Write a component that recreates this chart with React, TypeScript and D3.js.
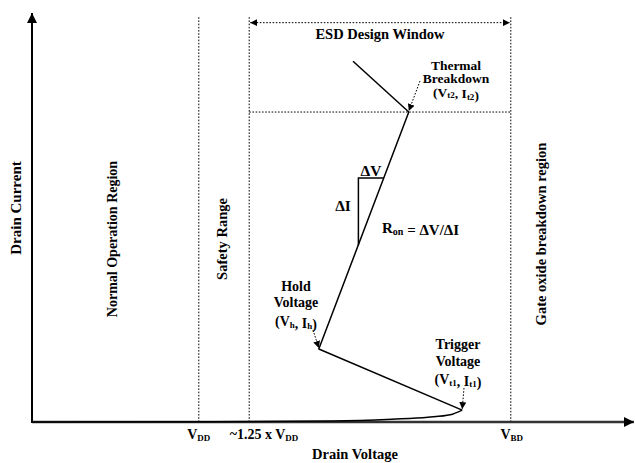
import React from 'react';
import * as d3 from 'd3';

const W = 635;
const H = 463;

// Schematic units: drain voltage 0..100, drain current 0..100
const voltageDomain = [0, 100];
const currentDomain = [0, 100];

// Reference voltages on the x axis: VDD, ~1.25 x VDD, VBD
const refVoltages = [27.8, 36.2, 79.8];

// Off-state leakage rising to the trigger point
const leakageV = [0, 30, 50, 60, 66, 69.7, 71.7];
const leakageI = [0, 0.05, 0.25, 0.7, 1.15, 1.75, 2.9];

// Snapback path: trigger (Vt1, It1) -> hold (Vh, Ih) -> thermal breakdown (Vt2, It2)
const snapbackV = [71.7, 47.8, 62.8];
const snapbackI = [2.9, 17.8, 75.6];

// Second breakdown branch beyond (Vt2, It2)
const failureV = [62.8, 53.5];
const failureI = [75.6, 88.0];

// On-resistance triangle corners
const triangleV = [54.4, 54.4, 58.6];
const triangleI = [43.2, 59.5, 59.5];

const FONT = '"Liberation Serif", "Times New Roman", serif';

export default function App() {
  const x = d3.scaleLinear().domain(voltageDomain).range([32, 632]);
  const y = d3.scaleLinear().domain(currentDomain).range([422, 12]);

  const leakage = d3
    .line<number>()
    .x((_, i) => x(leakageV[i]))
    .y((_, i) => y(leakageI[i]))
    .curve(d3.curveMonotoneX)(leakageV);

  const straight = (vs: number[], is: number[]) =>
    d3
      .line<number>()
      .x((_, i) => x(vs[i]))
      .y((_, i) => y(is[i]))(vs);

  const [vdd, vdd125, vbd] = refVoltages;
  const it2 = snapbackI[2];
  const topI = 98.8;
  const windowArrowI = 97.4;

  const bold = { fontFamily: FONT, fontWeight: 700 as const, fill: '#000' };
  const dotted = { stroke: '#000', strokeWidth: 1, strokeDasharray: '1.6,1.6', fill: 'none' };

  const sub = (t: string, size = 9) => (
    <tspan fontSize={size} dy={1.5}>
      {t}
    </tspan>
  );
  const back = () => <tspan dy={-1.5}></tspan>;

  return (
    <svg
      width={W}
      height={H}
      style={{ position: 'fixed', left: 0, top: 0, background: '#fff' }}
      xmlns="http://www.w3.org/2000/svg"
    >
      <defs>
        <marker id="head" viewBox="0 0 10 10" refX="10" refY="5" markerWidth="7" markerHeight="7" orient="auto-start-reverse" markerUnits="userSpaceOnUse">
          <path d="M0,0 L10,5 L0,10 z" fill="#000" />
        </marker>
        <marker id="bigHead" viewBox="0 0 10 10" refX="10" refY="5" markerWidth="11" markerHeight="10" orient="auto" markerUnits="userSpaceOnUse">
          <path d="M0,0 L10,5 L0,10 z" fill="#000" />
        </marker>
      </defs>

      {/* Reference voltage lines */}
      {refVoltages.map((v, i) => (
        <line key={i} x1={x(v)} x2={x(v)} y1={y(0)} y2={y(topI)} {...dotted} />
      ))}

      {/* ESD design window */}
      <line x1={x(vdd125)} x2={x(vbd)} y1={y(it2)} y2={y(it2)} {...dotted} />
      <line
        x1={x(vdd125) + 1}
        x2={x(vbd) - 1}
        y1={y(windowArrowI)}
        y2={y(windowArrowI)}
        {...dotted}
        markerStart="url(#head)"
        markerEnd="url(#head)"
      />

      {/* Axes */}
      <line x1={x(0)} x2={x(0)} y1={y(0) + 1} y2={y(100) + 1} stroke="#000" strokeWidth={2} markerEnd="url(#bigHead)" />
      <line x1={x(0)} x2={634} y1={y(0)} y2={y(0)} stroke="#333" strokeWidth={2.5} markerEnd="url(#bigHead)" />

      {/* I-V curve */}
      <path d={leakage ?? ''} fill="none" stroke="#000" strokeWidth={1.5} />
      <path d={straight(snapbackV, snapbackI) ?? ''} fill="none" stroke="#000" strokeWidth={1.5} strokeLinejoin="round" />
      <path d={straight(failureV, failureI) ?? ''} fill="none" stroke="#000" strokeWidth={1.5} />
      <path d={straight(triangleV, triangleI) ?? ''} fill="none" stroke="#000" strokeWidth={1.5} />

      {/* Callout arrows */}
      <line x1={420} y1={81} x2={x(snapbackV[2])} y2={y(snapbackI[2]) - 1} {...dotted} markerEnd="url(#head)" />
      <line x1={313} y1={330} x2={x(snapbackV[1])} y2={y(snapbackI[1]) - 1} {...dotted} markerEnd="url(#head)" />
      <line x1={464} y1={388} x2={x(snapbackV[0])} y2={y(snapbackI[0]) - 1} {...dotted} markerEnd="url(#head)" />

      {/* Labels */}
      <text x={(x(vdd125) + x(vbd)) / 2} y={39} textAnchor="middle" fontSize={14.5} {...bold}>
        ESD Design Window
      </text>

      <g fontSize={13.5} {...bold} textAnchor="middle">
        <text x={456} y={70}>Thermal</text>
        <text x={456} y={83}>Breakdown</text>
        <text x={456} y={96.5}>
          (V{sub('t2')}{back()}, I{sub('t2')}{back()})
        </text>
      </g>

      <g fontSize={14} {...bold} textAnchor="middle">
        <text x={296} y={291}>Hold</text>
        <text x={296} y={306.5}>Voltage</text>
        <text x={296} y={326}>
          (V{sub('h')}{back()}, I{sub('h')}{back()})
        </text>

        <text x={458} y={348.5}>Trigger</text>
        <text x={458} y={366}>Voltage</text>
        <text x={458} y={384}>
          (V{sub('t1')}{back()}, I{sub('t1')}{back()})
        </text>
      </g>

      <text x={371} y={175.5} textAnchor="middle" fontSize={15.5} {...bold}>ΔV</text>
      <text x={343} y={210.5} textAnchor="middle" fontSize={15.5} {...bold}>ΔI</text>
      <text x={382} y={233} fontSize={15} {...bold}>
        R{sub('on', 10)}{back()} = ΔV/ΔI
      </text>

      {/* Axis tick labels */}
      <g fontSize={14} {...bold} textAnchor="middle">
        <text x={x(vdd)} y={439}>V{sub('DD')}</text>
        <text x={264} y={439}>~1.25 x V{sub('DD')}</text>
        <text x={x(vbd) + 1} y={439}>V{sub('BD')}</text>
      </g>
      <text x={355} y={459} textAnchor="middle" fontSize={14.5} {...bold}>Drain Voltage</text>

      {/* Rotated labels */}
      <text transform="translate(20.5,208) rotate(-90)" textAnchor="middle" fontSize={15} {...bold}>Drain Current</text>
      <text transform="translate(117,239) rotate(-90)" textAnchor="middle" fontSize={14} {...bold}>Normal Operation Region</text>
      <text transform="translate(226.5,239) rotate(-90)" textAnchor="middle" fontSize={14.5} {...bold}>Safety Range</text>
      <text transform="translate(546,234) rotate(-90)" textAnchor="middle" fontSize={14.5} {...bold}>Gate oxide breakdown region</text>
    </svg>
  );
}
